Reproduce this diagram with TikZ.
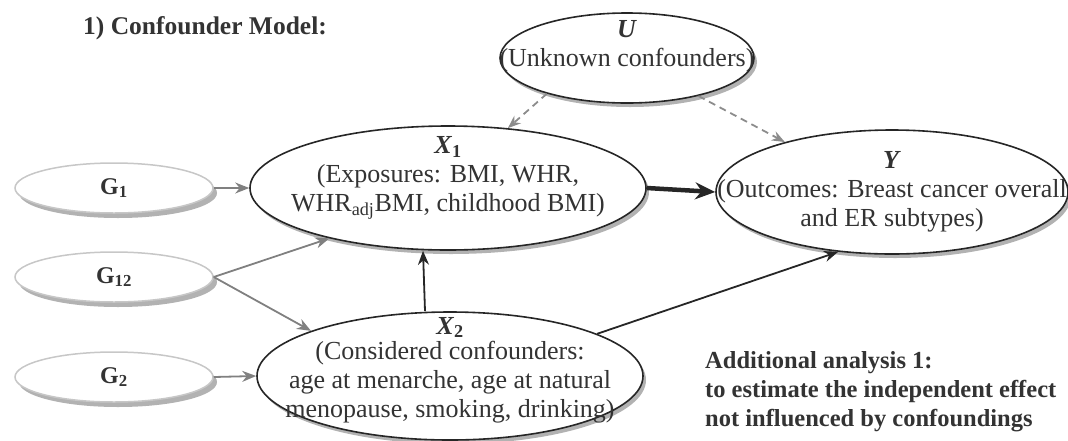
\documentclass[tikz,border=0pt]{standalone}
\usepackage{fontspec}
\setmainfont{Liberation Serif}
\usetikzlibrary{shapes.geometric,arrows.meta,shadows}

\begin{document}
\begin{tikzpicture}[x=1pt,y=-1pt]
        \tikzstyle{var}=[ellipse, draw=black!85, line width=1.6pt, fill=white, inner sep=0pt,
            drop shadow={shadow xshift=3pt, shadow yshift=-4pt, fill=black!30, opacity=1}]
        \tikzstyle{gene}=[ellipse, draw=black!22, line width=1.5pt, fill=white, inner sep=0pt,
            minimum width=198pt, minimum height=50pt, text=black!80, font=\fontsize{24}{28}\selectfont\bfseries,
            drop shadow={shadow xshift=4pt, shadow yshift=-5pt, fill=black!30, opacity=1}]
        \tikzstyle{annot}=[align=center, text=black!80, font=\fontsize{26}{29}\selectfont]
        \tikzstyle{garrow}=[-{Stealth[length=14pt,width=11pt]}, draw=black!50, line width=1.8pt]
        \tikzstyle{darrow}=[-{Stealth[length=14pt,width=11pt]}, draw=black!85, line width=1.8pt]
        \tikzstyle{uarrow}=[-{Stealth[length=13pt,width=10pt]}, draw=black!45, line width=1.8pt, dash pattern=on 7pt off 5pt]
        \tikzstyle{mainarrow}=[-{Stealth[length=20pt,width=17pt]}, draw=black!85, line width=4.5pt]
        \useasboundingbox (0,0) rectangle (1068,440);

        \node[anchor=west, inner sep=0pt, text=black!80, font=\fontsize{25.5}{28}\selectfont\bfseries] (title) at (83,28) {1) Confounder Model:};

        \node[var, minimum width=254pt, minimum height=90pt] (U) at (627,58) {};
        \node[annot] (U-txt) at (627,46) {\textbf{\textit{U}}\\(Unknown confounders)};

        \node[var, minimum width=396pt, minimum height=124pt] (X1) at (448,188) {};
        \node[annot] (X1-txt) at (448,178) {\textbf{\textit{X}\textsubscript{1}}\\(Exposures: BMI, WHR,\\WHR\textsubscript{adj}BMI, childhood BMI)};

        \node[var, minimum width=352pt, minimum height=124pt] (Y) at (892,192) {};
        \node[annot] (Y-txt) at (892,192) {\textbf{\textit{Y}}\\(Outcomes: Breast cancer overall\\and ER subtypes)};

        \node[var, minimum width=386pt, minimum height=128pt] (X2) at (450,376) {};
        \node[annot] (X2-txt) at (450,370) {\textbf{\textit{X}\textsubscript{2}}\\[-4pt](Considered confounders:\\age at menarche, age at natural\\menopause, smoking, drinking)};

        \foreach \name / \y / \sub in {G1/188/1, G12/277/12, G2/377/2}
            \node[gene] (\name) at (114,\y) {G\textsubscript{\sub}};

        \node[anchor=west, inner sep=0pt, align=left, text=black!80, font=\fontsize{24.5}{29}\selectfont\bfseries] (note) at (705,392)
            {Additional analysis 1:\\to estimate the independent effect\\not influenced by confoundings};

        \draw[garrow] (G1.east) -- (X1.west);
        \draw[garrow] (G12.east) -- (X1.203);
        \draw[garrow] (G12.east) -- (X2.162);
        \draw[garrow] (G2.east) -- (X2.west);
        \draw[darrow] ([xshift=-25pt]X2.north) -- ([xshift=-25pt]X1.south);
        \draw[darrow] (X2.16) -- (Y.228);
        \draw[mainarrow] (X1.east) -- (Y.west);
        \draw[uarrow] (U.204) -- (X1.45);
        \draw[uarrow] (U.332) -- (Y.155);
    \end{tikzpicture}
\end{document}
